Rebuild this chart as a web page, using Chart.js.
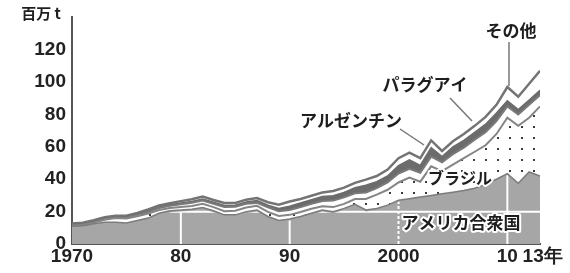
<!DOCTYPE html>
<html>
<head>
<meta charset="utf-8">
<script src="https://cdn.jsdelivr.net/npm/chart.js@4/dist/chart.umd.min.js"></script>
<style>
  html, body { margin: 0; padding: 0; background: #fff; }
  #wrap { width: 570px; height: 273px; }
</style>
</head>
<body>
<div id="wrap"><canvas id="grafico" width="570" height="273"></canvas></div>
<script>
// años (eje x)
const years = [1970, 1971, 1972, 1973, 1974, 1975, 1976, 1977, 1978, 1979,
  1980, 1981, 1982, 1983, 1984, 1985, 1986, 1987, 1988, 1989,
  1990, 1991, 1992, 1993, 1994, 1995, 1996, 1997, 1998, 1999,
  2000, 2001, 2002, 2003, 2004, 2005, 2006, 2007, 2008, 2009,
  2010, 2011, 2012, 2013];

// 百万 t, valores por país (apilados)
const usa = [11.0, 11.3, 12.5, 13.5, 13.5, 13.0, 14.5, 16.0, 19.0, 20.5,
  21.0, 21.5, 22.5, 20.5, 18.0, 18.0, 20.0, 21.0, 17.0, 14.5,
  15.5, 17.0, 19.0, 21.0, 20.0, 22.0, 24.5, 21.0, 22.0, 24.0,
  27.0, 28.0, 29.0, 30.0, 31.0, 32.0, 33.0, 34.5, 37.0, 40.0,
  43.5, 37.5, 44.5, 42.0];
const brasil = [0.3, 0.4, 0.7, 1.5, 2.5, 2.8, 2.7, 2.8, 2.0, 1.7,
  1.8, 2.0, 2.3, 2.3, 2.3, 2.6, 2.6, 2.6, 2.8, 2.8,
  2.5, 2.8, 2.8, 2.3, 2.8, 2.8, 3.3, 6.8, 8.5, 9.5,
  11.0, 13.0, 9.5, 18.0, 14.0, 17.0, 20.0, 22.5, 24.0, 28.0,
  34.5, 35.5, 33.5, 43.0];
const argentina = [0.3, 0.3, 0.3, 0.3, 0.3, 0.4, 0.6, 1.0, 1.2, 1.4,
  1.7, 2.0, 2.0, 2.0, 2.5, 2.4, 2.2, 1.8, 2.8, 3.0,
  3.0, 3.0, 3.0, 3.3, 4.0, 4.0, 3.5, 4.0, 4.0, 4.5,
  5.5, 5.5, 5.5, 6.0, 5.5, 6.5, 6.5, 7.5, 8.0, 8.0,
  7.0, 7.0, 8.0, 7.0];
const paraguay = [0.4, 0.5, 0.5, 0.5, 0.5, 0.6, 0.6, 0.6, 0.6, 0.6,
  0.8, 0.8, 1.0, 1.0, 1.0, 1.0, 1.2, 1.4, 1.4, 1.7,
  2.3, 2.5, 2.5, 2.7, 3.0, 3.0, 3.5, 4.5, 4.0, 4.0,
  5.0, 5.5, 4.5, 5.5, 3.5, 4.5, 4.5, 4.5, 5.0, 5.0,
  3.5, 3.0, 3.0, 3.0];
const otros = [0.6, 0.7, 0.7, 0.7, 0.7, 0.7, 0.8, 0.9, 1.0, 1.0,
  1.2, 1.3, 1.5, 1.4, 1.5, 1.4, 1.4, 1.6, 1.8, 2.3,
  3.0, 2.5, 2.5, 2.5, 3.0, 3.0, 3.0, 3.5, 3.5, 4.0,
  4.5, 4.5, 4.5, 4.5, 3.5, 3.5, 4.0, 4.0, 4.5, 5.0,
  8.5, 8.0, 10.0, 12.0];

const xTicks = [1970, 1980, 1990, 2000, 2010, 2013];
const xTickLabels = ['1970', '80', '90', '2000', '10', ' 13年'];
const yTicks = [0, 20, 40, 60, 80, 100, 120];

const canvas = document.getElementById('grafico');
const ctx0 = canvas.getContext('2d');

// trama de puntos para Brasil
const trama = document.createElement('canvas');
trama.width = 12; trama.height = 11;
const tctx = trama.getContext('2d');
tctx.fillStyle = '#fff';
tctx.fillRect(0, 0, 12, 11);
tctx.fillStyle = '#3a3a3a';
tctx.fillRect(5, 5, 2, 2);
const puntos = ctx0.createPattern(trama, 'repeat');

const pts = arr => arr.map((v, i) => ({ x: years[i], y: v }));

const CJK = '"Noto Sans CJK JP", "Noto Sans", sans-serif';

function texto(ctx, t, x, y, size, halo) {
  ctx.font = `bold ${size}px ${CJK}`;
  ctx.textAlign = 'center';
  ctx.textBaseline = 'middle';
  if (halo) {
    ctx.lineWidth = 4;
    ctx.strokeStyle = '#fff';
    ctx.lineJoin = 'round';
    ctx.strokeText(t, x, y);
  }
  ctx.fillStyle = '#1e1e1e';
  ctx.fillText(t, x, y);
}

function linea(ctx, x1, y1, x2, y2) {
  ctx.beginPath();
  ctx.moveTo(x1, y1);
  ctx.lineTo(x2, y2);
  ctx.strokeStyle = '#777';
  ctx.lineWidth = 1.5;
  ctx.stroke();
}

const anotaciones = {
  id: 'anotaciones',
  afterDatasetsDraw(chart) {
    const { ctx, scales: { x, y } } = chart;
    const base = y.getPixelForValue(0);

    // lineas blancas dentro del area gris (EE.UU.)
    const meta = chart.getDatasetMeta(0);
    ctx.save();
    ctx.beginPath();
    meta.data.forEach((p, i) => i ? ctx.lineTo(p.x, p.y + 1.5) : ctx.moveTo(p.x, p.y + 1.5));
    ctx.lineTo(x.getPixelForValue(2013), base);
    ctx.lineTo(x.getPixelForValue(1970), base);
    ctx.closePath();
    ctx.clip();
    ctx.strokeStyle = '#fff';
    ctx.lineWidth = 2;
    ctx.beginPath();
    ctx.moveTo(x.getPixelForValue(1979), y.getPixelForValue(20));
    ctx.lineTo(x.right, y.getPixelForValue(20));
    [1980, 1990, 2010].forEach(a => {
      ctx.moveTo(x.getPixelForValue(a), base);
      ctx.lineTo(x.getPixelForValue(a), y.top);
    });
    ctx.stroke();
    ctx.setLineDash([3, 2]);
    ctx.beginPath();
    ctx.moveTo(x.getPixelForValue(2000), base);
    ctx.lineTo(x.getPixelForValue(2000), y.top);
    ctx.stroke();
    ctx.restore();

    ctx.save();
    // lineas guia
    linea(ctx, 509, 42, 509, y.getPixelForValue(97) - 1);
    linea(ctx, 450, 98, 472, 121);
    linea(ctx, 400, 129, 424, 145);

    // textos
    texto(ctx, '百万 t', 41, 13, 15, false);
    texto(ctx, 'その他', 511, 31, 17, false);
    texto(ctx, 'パラグアイ', 425, 85, 17, false);
    texto(ctx, 'アルゼンチン', 351, 121, 17, false);
    texto(ctx, 'ブラジル', 460, 178, 16, true);
    texto(ctx, 'アメリカ合衆国', 461, 223, 17, true);
    ctx.restore();
  }
};

new Chart(canvas, {
  type: 'line',
  data: {
    datasets: [
      { label: 'アメリカ合衆国', data: pts(usa), fill: 'origin',
        backgroundColor: '#a6a6a6', borderColor: '#7c7c7c', borderWidth: 1.5 },
      { label: 'ブラジル', data: pts(brasil), fill: '-1',
        backgroundColor: puntos, borderColor: '#858585', borderWidth: 2 },
      { label: 'アルゼンチン', data: pts(argentina), fill: '-1',
        backgroundColor: '#fff', borderColor: '#7a7a7a', borderWidth: 2 },
      { label: 'パラグアイ', data: pts(paraguay), fill: '-1',
        backgroundColor: '#6c6c6c', borderColor: '#6c6c6c', borderWidth: 1.5 },
      { label: 'その他', data: pts(otros), fill: '-1',
        backgroundColor: '#fff', borderColor: '#747474', borderWidth: 2.5 }
    ]
  },
  options: {
    responsive: false,
    animation: false,
    devicePixelRatio: 1,
    layout: { padding: { top: 6, right: 30, bottom: 0, left: 0 } },
    elements: { point: { radius: 0 }, line: { tension: 0 } },
    plugins: { legend: { display: false }, tooltip: { enabled: false } },
    scales: {
      x: {
        type: 'linear', min: 1970, max: 2013,
        grid: { display: false, drawTicks: false },
        border: { color: '#555', width: 2 },
        afterBuildTicks: s => { s.ticks = xTicks.map(v => ({ value: v })); },
        afterFit: s => { s.height = 29; },
        ticks: {
          autoSkip: false, maxRotation: 0, padding: 1, color: '#222',
          font: { family: 'Liberation Sans', size: 19, weight: 'bold' },
          callback: (v, i) => xTickLabels[i]
        }
      },
      y: {
        stacked: true, min: 0, max: 140,
        grid: { display: false, drawTicks: false },
        border: { color: '#555', width: 2 },
        afterBuildTicks: s => { s.ticks = yTicks.map(v => ({ value: v })); },
        afterFit: s => { s.width = 72; },
        ticks: {
          padding: 6, color: '#222',
          font: { family: 'Liberation Sans', size: 19, weight: 'bold' }
        }
      }
    }
  },
  plugins: [anotaciones]
});
</script>
</body>
</html>
